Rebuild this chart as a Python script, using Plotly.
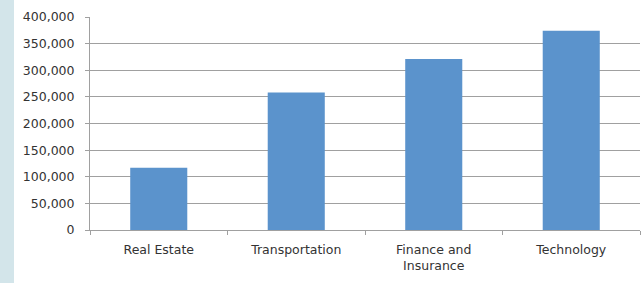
import plotly.graph_objects as go

categories = ["Real Estate", "Transportation", "Finance and<br>Insurance", "Technology"]
values = [117000, 258000, 321000, 374000]
y_ticks = [0, 50000, 100000, 150000, 200000, 250000, 300000, 350000, 400000]
y_tick_labels = ["0", "50,000", "100,000", "150,000", "200,000", "250,000", "300,000", "350,000", "400,000"]

font = dict(family="DejaVu Sans", size=12.5, color="#333333")

fig = go.Figure(go.Bar(x=categories, y=values, marker=dict(color="#5B93CC", line=dict(width=0))))

W, H = 643, 283
ml, mr, mt, mb = 90, 3, 17, 53
pw, ph = W - ml - mr, H - mt - mb

fig.update_layout(
    width=W, height=H,
    margin=dict(l=ml, r=mr, t=mt, b=mb, pad=0),
    paper_bgcolor="white", plot_bgcolor="white",
    bargap=0.585, showlegend=False, font=font,
    shapes=[dict(type="rect", xref="paper", yref="paper",
                 x0=-ml / pw, x1=(14 - ml) / pw, y0=-mb / ph, y1=1 + mt / ph,
                 fillcolor="#D3E5EA", line=dict(width=0), layer="below")],
)
fig.update_yaxes(range=[0, 400000], tickvals=y_ticks, ticktext=y_tick_labels,
                 showgrid=True, gridcolor="#A0A0A0", gridwidth=1,
                 showline=True, linecolor="#A0A0A0", linewidth=1,
                 ticks="outside", ticklen=4, tickcolor="#A0A0A0",
                 zeroline=False, tickfont=font, ticklabelstandoff=8)
fig.update_xaxes(showline=True, linecolor="#A0A0A0", linewidth=1,
                 ticks="outside", ticklen=4, tickcolor="#A0A0A0",
                 tickson="boundaries", tickfont=font, ticklabelstandoff=8)

fig.write_html("out.html", config={"displayModeBar": False},
               post_script="document.body.style.margin='0';document.body.style.overflow='hidden';")
